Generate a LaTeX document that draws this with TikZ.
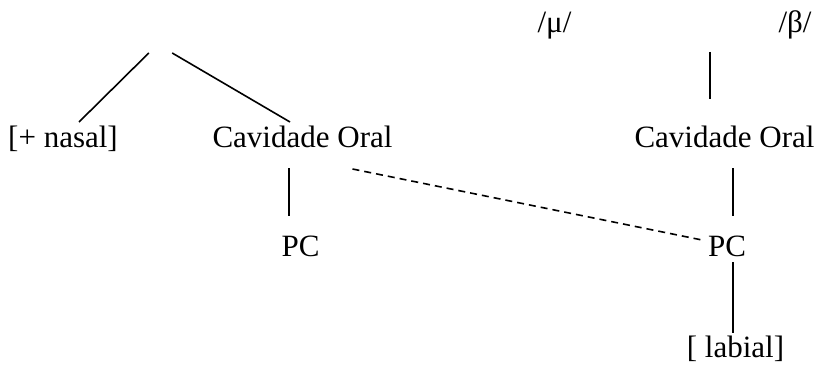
\documentclass[tikz,border=0pt]{standalone}
\usepackage{fontspec}
\setmainfont{Liberation Serif}
\usetikzlibrary{calc}
\begin{document}
\begin{tikzpicture}[x=1pt,y=-1pt,
  lbl/.style={anchor=base,inner sep=0pt,font=\fontsize{31}{37}\selectfont},
  link/.style={line width=1.6pt},
  dlink/.style={line width=1.6pt,dash pattern=on 7pt off 5pt}]
\useasboundingbox (0,0) rectangle (817,369);
% left tree
\node (apex) [inner sep=0pt,minimum width=23pt,minimum height=0pt] at (160.5,53) {};
\node (nasal) [lbl] at (63,147) {[+ nasal]};
\node (cav1) [lbl] at (302.5,147) {Cavidade Oral};
\node (pc1) [lbl] at (300.5,256) {PC};
% right tree
\node (mu) [lbl] at (554.5,33) {/μ/};
\node (beta) [lbl] at (795,33) {/β/};
\node (cav2) [lbl] at (724.5,147) {Cavidade Oral};
\node (pc2) [lbl] at (727,256) {PC};
\node (lab) [lbl] at (735.5,357) {[ labial]};
% connectors
\draw[link] (apex.west) -- ($(nasal.base)+(16,-25)$);
\draw[link] (apex.east) -- ($(cav1.base)+(-12.5,-25)$);
\draw[link] ($(cav1.base)+(-13.5,21)$) -- ($(pc1.base)+(-11.5,-40)$);
\draw[dlink] ($(cav1.base)+(50,22)$) -- ($(pc2.base)+(-25,-16)$);
\draw[link] ($(cav2.base)+(-14.5,-95)$) -- ($(cav2.base)+(-14.5,-48)$);
\draw[link] ($(cav2.base)+(8.5,21)$) -- ($(pc2.base)+(6,-40)$);
\draw[link] ($(pc2.base)+(6,6)$) -- ($(lab.base)+(-2.5,-24)$);
\end{tikzpicture}
\end{document}
